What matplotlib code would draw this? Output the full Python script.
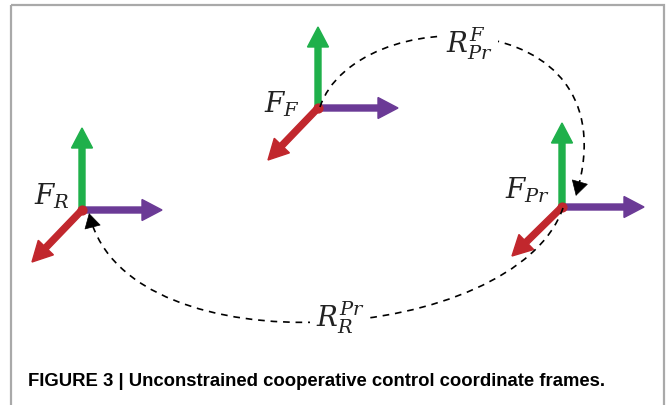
import numpy as np
import matplotlib.pyplot as plt
from matplotlib.patches import FancyArrowPatch, PathPatch, Rectangle
from matplotlib.path import Path

# coordinate frames (pixel space, y down)
frame_names = ['$F_R$', '$F_F$', '$F_{Pr}$']
frame_x = [82, 318, 562]
frame_y = [210, 108, 207]
label_x = [52, 282, 528]
label_y = [196, 104, 190]

# axis vectors: up (green), right (purple), down-left (red)
up_len = [82, 81, 84]
right_len = [80, 80, 82]
red_dx = [-50, -50, -50]
red_dy = [52, 52, 49]

# relative transforms as bezier curves (start, ctrl1, ctrl2, end)
rel_names = ['$R_{Pr}^{F}$', '$R_{R}^{Pr}$']
rel_curves = [
    [(320, 107), (355, 2), (632, 0), (577, 192)],
    [(563, 208), (515, 345), (130, 372), (90, 217)],
]
rel_label_x = [469, 340]
rel_label_y = [44, 318]

caption = 'FIGURE 3 | Unconstrained cooperative control coordinate frames.'

green = '#1fb04b'
purple = '#6b3a96'
red = '#c1272d'

plt.rcParams['mathtext.fontset'] = 'dejavuserif'

fig = plt.figure(figsize=(6.67, 4.05), dpi=100)
ax = fig.add_axes([0, 0, 1, 1])
ax.set_xlim(0, 667)
ax.set_ylim(405, 0)
ax.axis('off')

# gray frame around figure
ax.add_patch(Rectangle((11, 5), 653, 420, fill=False, edgecolor='#a9a9a9', lw=1.6))

for i in range(3):
    x, y = frame_x[i], frame_y[i]
    ax.arrow(x, y, 0, -up_len[i], width=6, head_width=21, head_length=20,
             length_includes_head=True, color=green, zorder=2)
    ax.arrow(x, y, right_len[i], 0, width=6, head_width=21, head_length=20,
             length_includes_head=True, color=purple, zorder=2)
    ax.arrow(x, y, red_dx[i], red_dy[i], width=6, head_width=21, head_length=20,
             length_includes_head=True, color=red, zorder=3)
    ax.scatter([x], [y], s=40, color=red, zorder=4)
    ax.text(label_x[i], label_y[i], frame_names[i], fontsize=20,
            ha='center', va='center', color='#222222')

for i in range(2):
    pts = rel_curves[i]
    codes = [Path.MOVETO, Path.CURVE4, Path.CURVE4, Path.CURVE4]
    ax.add_patch(PathPatch(Path(pts, codes), fill=False, linestyle=(0, (4, 3.5)),
                           lw=1.2, edgecolor='black', zorder=5))
    # solid arrow head along the end tangent
    end = np.array(pts[3], float)
    d = end - np.array(pts[2], float)
    d = d / np.hypot(*d)
    ax.add_patch(FancyArrowPatch(end - 6 * d, end + 4 * d,
                                 arrowstyle='-|>,head_length=0.7,head_width=0.4',
                                 mutation_scale=14, color='black', lw=0.5,
                                 shrinkA=0, shrinkB=0, zorder=6))
    ax.text(rel_label_x[i], rel_label_y[i], rel_names[i], fontsize=20,
            ha='center', va='center', color='#222222', zorder=6,
            bbox=dict(facecolor='white', edgecolor='none', pad=4))

ax.text(28, 381, caption, fontsize=13.3, fontweight='bold',
        family=['Liberation Sans Narrow', 'Liberation Sans'], va='center')

fig.savefig('out.png', dpi=100)
